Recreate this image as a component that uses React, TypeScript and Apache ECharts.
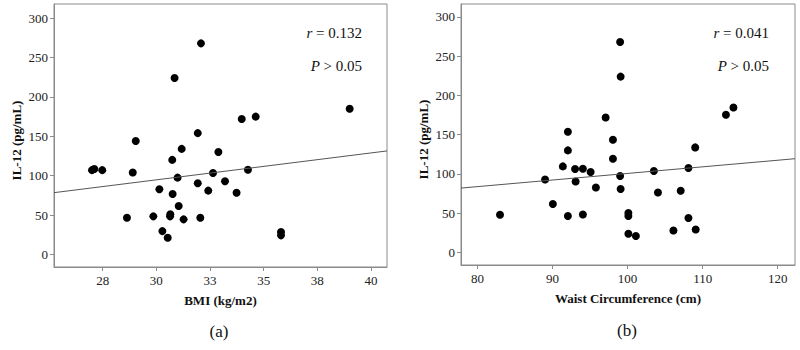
import React, { useEffect, useRef } from "react";
import * as echarts from "echarts";

// Panel (a): BMI vs IL-12
const bmi = [32.08, 30.85, 39.01, 33.98, 34.63, 29.04, 31.93, 31.18, 32.89, 30.74, 27.0, 27.11, 27.48, 28.9, 32.64, 34.27,
  30.99, 30.14, 30.76, 31.93, 32.42, 33.2, 33.74, 31.04, 28.63, 29.86, 30.65, 30.64, 31.27, 32.05, 30.28, 30.53, 35.81, 35.81];
const il12A = [268, 224, 185, 172, 175, 144, 154, 134, 130, 120, 107, 108.5, 107, 104, 103.4, 107.6,
  97.5, 82.7, 76.7, 90.3, 81, 92.9, 78.4, 61.5, 46.6, 48.3, 50.9, 48.3, 44.5, 46.6, 29.6, 21.1, 28.4, 24.2];
const fitA = [[25.23, 78.4], [40.75, 131.4]];
const bmiTicks = [27.5, 30, 32.5, 35, 37.5, 40];

// Panel (b): Waist circumference vs IL-12
const waist = [99.0, 99.07, 114.1, 113.1, 97.07, 98.04, 92.04, 92.04, 109.0, 98.04, 91.37, 93.0, 94.04, 95.07, 103.5, 108.1, 99.0,
  89.0, 93.07, 95.77, 99.07, 104.04, 107.07, 90.04, 83.0, 92.04, 94.04, 100.1, 100.1, 108.1, 100.1, 101.1, 106.1, 109.07];
const il12B = [268, 224, 184.7, 175.4, 172, 143.6, 153.8, 130, 133.8, 119.4, 109.6, 106.2, 106.6, 102.4, 103.7, 107.5, 97.3,
  93, 90.4, 82.8, 80.8, 76.4, 78.6, 61.7, 48, 46.4, 48.4, 50.2, 46.4, 43.8, 23.8, 20.9, 28, 29.3];
const fitB = [[77.8, 82], [122.3, 119.4]];
const waistTicks = [80, 90, 100, 110, 120];

const yTicks = [0, 50, 100, 150, 200, 250, 300];

const FONT = "'Liberation Serif', 'Times New Roman', serif";
const FRAME = "#8a8a8a";

function xAxisCfg(gridIndex: number, name: string, min: number, max: number, ticks: number[]) {
  return {
    type: "value",
    gridIndex,
    min,
    max,
    name,
    nameLocation: "middle",
    nameGap: 27,
    nameTextStyle: { fontFamily: FONT, fontWeight: "bold", fontSize: 13, color: "#111" },
    splitLine: { show: false },
    axisLine: { show: true, onZero: false, lineStyle: { color: FRAME, width: 1 } },
    axisTick: { show: true, length: 4, customValues: ticks, lineStyle: { color: FRAME } },
    axisLabel: {
      customValues: ticks,
      formatter: (v: number) => String(Math.round(v)),
      fontFamily: FONT,
      fontSize: 13,
      color: "#222",
      margin: 7,
    },
  };
}

function yAxisCfg(gridIndex: number, min: number, max: number) {
  return {
    type: "value",
    gridIndex,
    min,
    max,
    name: "IL-12 (pg/mL)",
    nameLocation: "middle",
    nameGap: 31,
    nameRotate: 90,
    nameTextStyle: { fontFamily: FONT, fontWeight: "bold", fontSize: 13, color: "#111", padding: [0, 0, 0, -10] },
    splitLine: { show: false },
    axisLine: { show: true, onZero: false, lineStyle: { color: FRAME, width: 1 } },
    axisTick: { show: true, length: 4, customValues: yTicks, lineStyle: { color: FRAME } },
    axisLabel: {
      customValues: yTicks,
      fontFamily: FONT,
      fontSize: 13,
      color: "#222",
      margin: 6,
    },
  };
}

function annot(x: number, y: number, text: string) {
  return {
    type: "text",
    x,
    y,
    style: {
      text,
      align: "right",
      verticalAlign: "middle",
      fontFamily: FONT,
      fontSize: 15,
      fill: "#111",
      rich: {
        n: { fontFamily: FONT, fontSize: 15, fill: "#111" },
        i: { fontFamily: FONT, fontStyle: "italic", fontSize: 15, fill: "#111" },
      },
    },
  };
}

export default function App() {
  const ref = useRef<HTMLDivElement>(null);
  useEffect(() => {
    if (!ref.current) return;
    const chart = echarts.init(ref.current, null, { renderer: "svg" });
    const dotsA = bmi.map((x, i) => [x, il12A[i]]);
    const dotsB = waist.map((x, i) => [x, il12B[i]]);
    chart.setOption({
      animation: false,
      backgroundColor: "#fff",
      textStyle: { fontFamily: FONT },
      grid: [
        { left: 54, top: 4, width: 333, height: 263, show: true, borderColor: FRAME, borderWidth: 1, backgroundColor: "transparent" },
        { left: 461, top: 4, width: 334, height: 261, show: true, borderColor: FRAME, borderWidth: 1, backgroundColor: "transparent" },
      ],
      xAxis: [
        xAxisCfg(0, "BMI (kg/m2)", 25.23, 40.75, bmiTicks),
        xAxisCfg(1, "Waist Circumference (cm)", 77.8, 122.3, waistTicks),
      ],
      yAxis: [yAxisCfg(0, -16, 318), yAxisCfg(1, -16, 316.5)],
      series: [
        {
          type: "line",
          xAxisIndex: 0,
          yAxisIndex: 0,
          data: fitA,
          symbol: "none",
          lineStyle: { color: "#555", width: 1 },
          silent: true,
        },
        {
          type: "scatter",
          xAxisIndex: 0,
          yAxisIndex: 0,
          data: dotsA,
          symbolSize: 8,
          itemStyle: { color: "#000", opacity: 1 },
        },
        {
          type: "line",
          xAxisIndex: 1,
          yAxisIndex: 1,
          data: fitB,
          symbol: "none",
          lineStyle: { color: "#555", width: 1 },
          silent: true,
        },
        {
          type: "scatter",
          xAxisIndex: 1,
          yAxisIndex: 1,
          data: dotsB,
          symbolSize: 8,
          itemStyle: { color: "#000", opacity: 1 },
        },
      ],
      graphic: [
        annot(362, 33, "{i|r}{n| = 0.132}"),
        annot(362, 66, "{i|P}{n| > 0.05}"),
        annot(769, 33, "{i|r}{n| = 0.041}"),
        annot(769, 66, "{i|P}{n| > 0.05}"),
        {
          type: "text",
          x: 219,
          y: 331,
          style: { text: "(a)", align: "center", verticalAlign: "middle", fontFamily: FONT, fontSize: 17, fill: "#111" },
        },
        {
          type: "text",
          x: 627,
          y: 330,
          style: { text: "(b)", align: "center", verticalAlign: "middle", fontFamily: FONT, fontSize: 17, fill: "#111" },
        },
      ],
    });
    return () => chart.dispose();
  }, []);
  return (
    <div
      ref={ref}
      style={{ position: "fixed", left: 0, top: 0, width: 800, height: 350, background: "#fff" }}
    />
  );
}
